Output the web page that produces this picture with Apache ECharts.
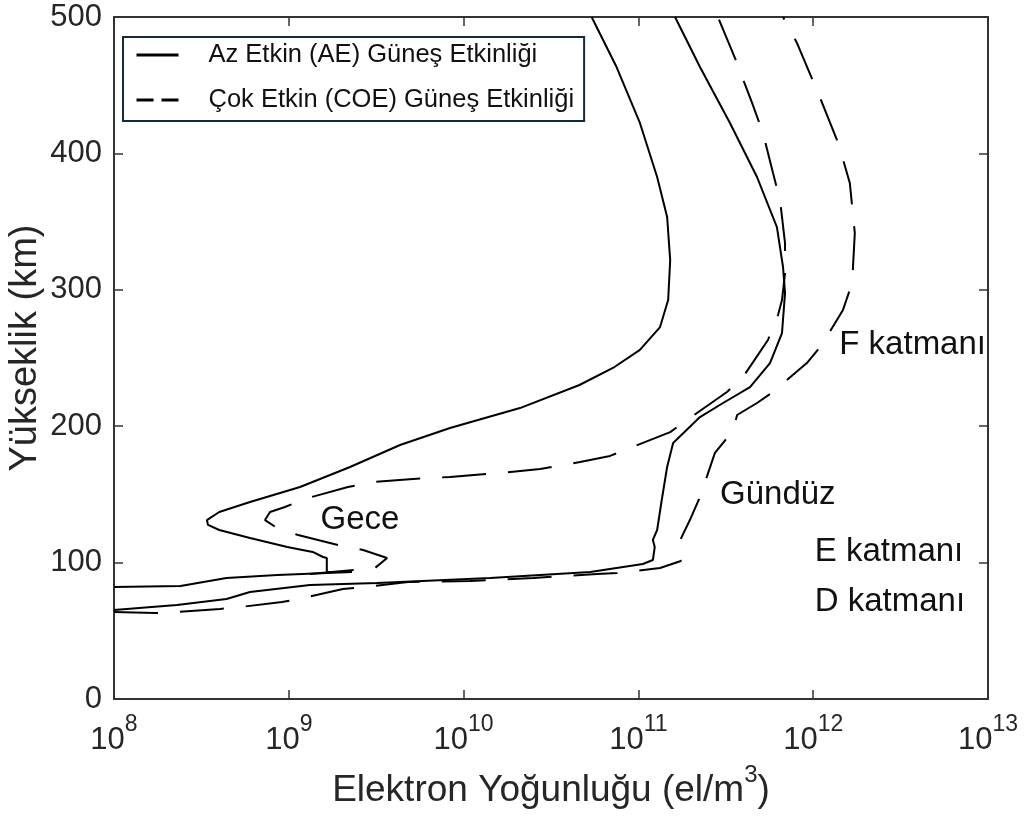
<!DOCTYPE html>
<html>
<head>
<meta charset="utf-8">
<script src="https://cdn.jsdelivr.net/npm/echarts@6/dist/echarts.min.js"></script>
<style>
html,body{margin:0;padding:0;background:#fff;}
#chart{width:1032px;height:824px;}
</style>
</head>
<body>
<div id="chart"></div>
<script>
// ---- Data (electron density el/m^3, altitude km) ----
const nameAE = 'Az Etkin (AE) Güneş Etkinliği';
const nameCOE = 'Çok Etkin (COE) Güneş Etkinliği';

const nightAE_N = [1.0e8, 2.4e8, 4.4e8, 8.6e8, 2.3e9, 1.65e9, 1.65e9, 1.57e9, 1.37e9, 9.8e8, 6.0e8, 4.0e8, 3.45e8, 3.4e8, 4.0e8, 6.0e8, 1.16e9, 2.24e9, 4.33e9, 8.36e9, 2.1e10, 4.6e10, 7.15e10, 1.02e11, 1.33e11, 1.48e11, 1.52e11, 1.46e11, 1.28e11, 1.02e11, 7.5e10, 5.4e10];
const nightAE_H = [82.1, 82.8, 88.7, 90.9, 93.1, 93.1, 103.4, 104.1, 107.8, 111.4, 118.0, 123.9, 127.6, 131.2, 137.1, 144.4, 155.4, 170.1, 186.2, 198.7, 213.3, 230.2, 242.7, 255.9, 272.7, 292.5, 321.8, 353.4, 382.7, 422.3, 463.3, 500];

const dayAE_N = [1.0e8, 2.29e8, 4.4e8, 6.0e8, 1.32e9, 3.2e9, 1.42e10, 5.3e10, 1.06e11, 1.21e11, 1.24e11, 1.21e11, 1.28e11, 1.36e11, 1.46e11, 1.58e11, 2.25e11, 3.05e11, 4.35e11, 5.66e11, 6.63e11, 6.9e11, 6.72e11, 6.2e11, 4.77e11, 3.34e11, 2.25e11, 1.62e11];
const dayAE_H = [65.2, 68.9, 73.3, 78.4, 83.6, 85.0, 88.7, 93.1, 99.0, 101.9, 111.4, 116.6, 123.9, 145.9, 170.1, 187.7, 206.7, 217.0, 228.7, 246.3, 268.3, 297.7, 316.7, 346.0, 382.7, 422.3, 463.3, 500];

const nightCOE_N = [1.32e9, 3.11e9, 3.65e9, 2.66e9, 1.91e9, 1.13e9, 8.56e8, 7.31e8, 7.81e8, 9.51e8, 1.29e9, 2.18e9, 3.03e9, 5.13e9, 8.36e9, 1.62e10, 2.74e10, 4.64e10, 6.88e10, 8.95e10, 1.52e11, 1.97e11, 3.21e11, 3.97e11, 5.51e11, 6.29e11, 6.63e11, 6.9e11, 6.9e11, 6.46e11, 5.89e11, 5.16e11, 4.47e11, 3.57e11, 2.85e11];
const nightCOE_H = [91.6, 96.0, 103.4, 109.2, 112.9, 120.2, 125.4, 131.2, 137.1, 140.8, 147.4, 155.4, 159.1, 161.3, 162.8, 165.7, 168.6, 173.8, 178.2, 184.0, 195.7, 206.0, 225.1, 236.1, 263.2, 281.5, 292.5, 312.3, 334.3, 365.8, 385.6, 415.0, 437.0, 469.9, 500];

const dayCOE_N = [1.0e8, 1.72e8, 2.29e8, 4.04e8, 5.26e8, 9.14e8, 1.21e9, 2.04e9, 2.73e9, 4.81e9, 1.09e10, 2.5e10, 5.8e10, 7.54e10, 1.33e11, 1.75e11, 1.68e11, 1.97e11, 2.25e11, 2.74e11, 3.25e11, 3.57e11, 3.67e11, 4.77e11, 5.89e11, 9.2e11, 1.12e12, 1.48e12, 1.67e12, 1.73e12, 1.62e12, 1.39e12, 1.09e12, 8.08e11, 6.72e11];
const dayCOE_H = [63.8, 63.0, 63.8, 66.0, 67.4, 71.1, 74.0, 80.6, 82.1, 85.8, 86.5, 88.7, 91.6, 92.4, 96.0, 101.2, 112.9, 131.2, 148.1, 180.4, 192.1, 202.3, 208.2, 217.0, 225.1, 246.3, 259.5, 285.2, 305.0, 341.6, 378.3, 407.6, 441.3, 480.9, 500];

// annotation texts and their anchor (left-middle) positions
const annText = ['F katmanı', 'Gündüz', 'E katmanı', 'D katmanı', 'Gece'];
const annN = [1.41e12, 2.93e11, 1.02e12, 1.02e12, 1.52e9];
const annH = [259.5, 149.6, 107.8, 71.0, 131.0];

// axis ranges / ticks
const xMin = 1e8, xMax = 1e13;
const yMin = 0, yMax = 500, yStep = 100;
const xTitle = 'Elektron Yoğunluğu (el/m';
const xTitleSup = '3';
const yTitle = 'Yükseklik (km)';

// ---- Build ----
const zip = (a, b) => a.map((v, i) => [v, b[i]]);
const FONT = '"Liberation Sans", Arial, Helvetica, sans-serif';
const AX = '#333333';
const TXT = '#262626';
const DASH = [44, 22];

function lineSeries(name, N, H, dashed) {
  return {
    type: 'line', name: name, data: zip(N, H),
    xAxisIndex: 0, yAxisIndex: 0,
    symbol: 'none', showSymbol: false, smooth: false,
    lineStyle: { color: '#000', width: 2, type: dashed ? DASH : 'solid' },
    itemStyle: { color: '#000' },
    silent: true, animation: false, z: 3
  };
}

const chart = echarts.init(document.getElementById('chart'), null, { renderer: 'canvas' });

const option = {
  backgroundColor: '#fff',
  animation: false,
  textStyle: { fontFamily: FONT },
  grid: { left: 114, right: 44, top: 17, bottom: 125, containLabel: false, outerBoundsMode: 'none' },
  legend: {
    orient: 'vertical', left: 123, top: 37,
    data: [
      { name: nameAE, lineStyle: { width: 3, type: 'solid', color: '#000' } },
      { name: nameCOE, lineStyle: { width: 3, type: [17, 8], color: '#000' } }
    ],
    itemWidth: 42, itemHeight: 10, itemGap: 15,
    itemStyle: { color: 'rgba(0,0,0,0)', borderWidth: 0 },
    padding: [3, 10, 6, 12],
    borderColor: '#15293a', borderWidth: 2, backgroundColor: '#fff',
    selectedMode: false,
    textStyle: { fontFamily: FONT, fontSize: 25.5, color: '#111', lineHeight: 30, padding: [0, 0, 0, 25] }
  },
  xAxis: [{
    type: 'log', logBase: 10, min: xMin, max: xMax, position: 'bottom',
    axisLine: { show: true, onZero: false, lineStyle: { color: AX, width: 2 } },
    axisTick: { show: true, inside: true, length: 9, lineStyle: { color: AX, width: 1.5 } },
    minorTick: { show: false }, splitLine: { show: false },
    axisLabel: {
      margin: 14, color: TXT, fontFamily: FONT,
      formatter: v => '{b|10}{s|' + Math.round(Math.log10(v)) + '}',
      rich: {
        b: { fontSize: 31, fontFamily: FONT, color: TXT, verticalAlign: 'bottom' },
        s: { fontSize: 23, fontFamily: FONT, color: TXT, verticalAlign: 'top', padding: [0, 0, 20, 0] }
      }
    },
    name: '{b|' + xTitle + '}{s|' + xTitleSup + '}{b|)}',
    nameLocation: 'middle', nameGap: 64,
    nameTextStyle: {
      rich: {
        b: { fontSize: 37, fontFamily: FONT, color: TXT, verticalAlign: 'bottom' },
        s: { fontSize: 24, fontFamily: FONT, color: TXT, verticalAlign: 'top', padding: [0, 0, 22, 0] }
      }
    }
  }, {
    type: 'log', logBase: 10, min: xMin, max: xMax, position: 'top',
    axisLine: { show: true, onZero: false, lineStyle: { color: AX, width: 2 } },
    axisTick: { show: true, inside: true, length: 9, lineStyle: { color: AX, width: 1.5 } },
    axisLabel: { show: false }, splitLine: { show: false }
  }],
  yAxis: [{
    type: 'value', min: yMin, max: yMax, interval: yStep, position: 'left',
    axisLine: { show: true, onZero: false, lineStyle: { color: AX, width: 2 } },
    axisTick: { show: true, inside: true, length: 9, lineStyle: { color: AX, width: 1.5 } },
    splitLine: { show: false },
    axisLabel: { margin: 12, fontSize: 31, color: TXT, fontFamily: FONT },
    name: yTitle, nameLocation: 'middle', nameGap: 69, nameRotate: 90,
    nameMoveOverlap: false,
    nameTextStyle: { fontSize: 38, color: TXT, fontFamily: FONT, padding: [0, 0, 0, 20] }
  }, {
    type: 'value', min: yMin, max: yMax, interval: yStep, position: 'right',
    axisLine: { show: true, onZero: false, lineStyle: { color: AX, width: 2 } },
    axisTick: { show: true, inside: true, length: 9, lineStyle: { color: AX, width: 1.5 } },
    splitLine: { show: false }, axisLabel: { show: false }
  }],
  series: [
    lineSeries(nameAE, nightAE_N, nightAE_H, false),
    lineSeries(nameAE, dayAE_N, dayAE_H, false),
    lineSeries(nameCOE, nightCOE_N, nightCOE_H, true),
    lineSeries(nameCOE, dayCOE_N, dayCOE_H, true),
    {
      type: 'scatter', name: 'annotations',
      data: annN.map((v, i) => [v, annH[i], annText[i]]),
      symbolSize: 0, silent: true, z: 5,
      itemStyle: { opacity: 1 },
      label: {
        show: true, position: 'right', distance: 0,
        formatter: p => p.data[2],
        fontSize: 33, color: '#111', fontFamily: FONT
      }
    }
  ]
};
chart.setOption(option);
</script>
</body>
</html>
